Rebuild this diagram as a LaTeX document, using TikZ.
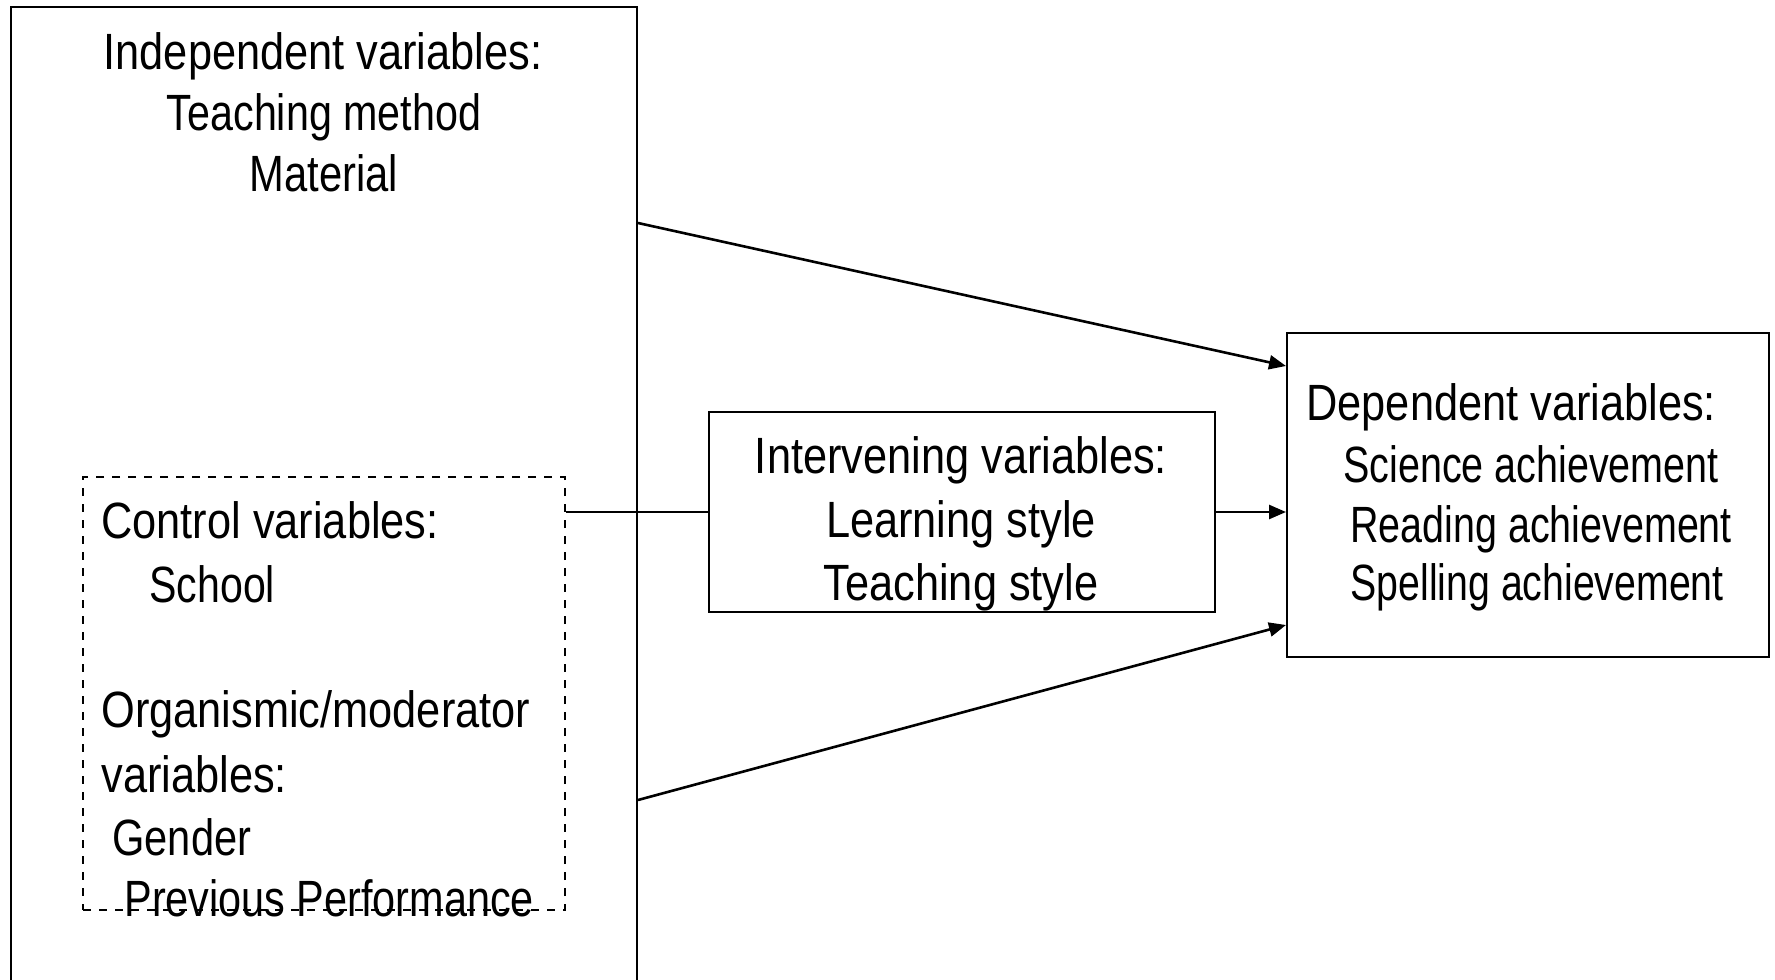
\documentclass[tikz,border=0pt]{standalone}
\usepackage{graphicx}
\usepackage{fontspec}
\setmainfont[FakeStretch=0.85]{Liberation Sans}
\usetikzlibrary{arrows.meta,calc,fit}
% horizontally condensed text run
\newcommand{\narrowtext}[2]{\scalebox{#1}[1]{#2}}
\begin{document}
\begin{tikzpicture}[x=0.5pt,y=-0.5pt,
  box/.style={draw, line width=1pt, inner sep=0pt},
  dbox/.style={draw, dash pattern=on 4pt off 4pt, line width=0.8pt, inner sep=0pt},
  lbl/.style={inner sep=0pt, font=\fontsize{25.5}{30}\selectfont},
  conn/.style={line width=1.3pt},
  arr/.style={conn, -{Triangle[length=8.5pt,width=7pt]}}]
\useasboundingbox (0,0) rectangle (1775,979);
\clip (0,0) rectangle (1775,979);

% boxes
\node[box, fit={(11,7) (637,1010)}] (indep) {};
\node[dbox, fit={(83,477) (565,910)}] (ctrl) {};
\node[box, fit={(709,412) (1215,612)}] (inter) {};
\node[box, fit={(1287,333) (1769,657)}] (dep) {};

% independent variables
\node[lbl, anchor=base] (iv1) at (323,69) {Independent variables:};
\node[lbl, anchor=base] (iv2) at (324,130) {\narrowtext{0.952}{Teaching method}};
\node[lbl, anchor=base] (iv3) at (324,191) {\narrowtext{0.963}{Material}};

% control and moderator variables
\node[lbl, anchor=base west] (cv1) at (101,538) {Control variables:};
\node[lbl, anchor=base west] (cv2) at (149,602) {\narrowtext{0.948}{School}};
\node[lbl, anchor=base west] (mv1) at (101,727) {Organismic/moderator};
\node[lbl, anchor=base west] (mv2) at (101,792) {variables:};
\node[lbl, anchor=base west] (mv3) at (112,855) {\narrowtext{0.96}{Gender}};
\node[lbl, anchor=base west] (mv4) at (124,916) {\narrowtext{0.955}{Previous Performance}};

% intervening variables
\node[lbl, anchor=base] (in1) at (961,473) {Intervening variables:};
\node[lbl, anchor=base] (in2) at (961,537) {Learning style};
\node[lbl, anchor=base] (in3) at (961,600) {Teaching style};

% dependent variables
\node[lbl, anchor=base west] (dv1) at (1306,420) {Dependent variables:};
\node[lbl, anchor=base west] (dv2) at (1343,482) {\narrowtext{0.911}{Science achievement}};
\node[lbl, anchor=base west] (dv3) at (1350,542) {\narrowtext{0.91}{Reading achievement}};
\node[lbl, anchor=base west] (dv4) at (1350,600) {\narrowtext{0.906}{Spelling achievement}};

% connectors
\draw[arr] ($(indep.north east)+(0,217)$) -- ($(dep.north west)+(0,34)$);
\draw[conn] (ctrl.east |- inter.west) -- (inter.west);
\draw[arr] (inter.east) -- (dep.west |- inter.east);
\draw[arr] ($(indep.north east)+(0,794)$) -- ($(dep.south west)+(0,-33)$);
\end{tikzpicture}
\end{document}
